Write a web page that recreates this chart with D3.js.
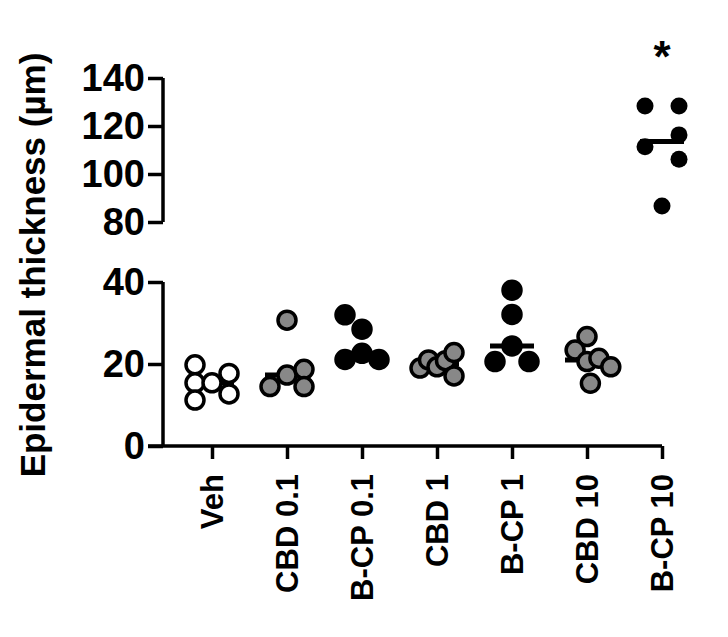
<!DOCTYPE html>
<html><head><meta charset="utf-8">
<script src="https://cdn.jsdelivr.net/npm/d3@7"></script>
<style>body{margin:0;background:#fff}text{font-family:"Liberation Sans",Arial,sans-serif;font-weight:bold}</style>
</head><body><svg id="c" width="728" height="637"></svg>
<script>
const categories=["Veh","CBD 0.1","B-CP 0.1","CBD 1","B-CP 1","CBD 10","B-CP 10"];
const fills=["#fff","#888","#000","#888","#000","#888","#000"];
const values=[
 [19.8,15.4,15.4,17.7,12.7,11.2],
 [30.7,14.5,17.3,18.7,14.5],
 [32,28.5,22.6,21.1,21.1],
 [19,21,19.3,20.8,22.8,17.1],
 [38,32.1,24.4,20.6,20.6],
 [26.7,23.4,20.6,21.4,19.3,15.3],
 [128.3,128.3,116.3,111.4,106.1,86.7]];
const slots=[
 [-1,-1,0,1,1,-1],
 [0,-1,0,1,1],
 [-1,0,0,-1,1],
 [-1,-0.5,0,0.5,1,1],
 [0,0,0,-1,1],
 [0,-0.7,0,0.7,1.4,0.2],
 [-1,1,1,-1,1,0]];
const medians=[15.4,17.3,22.6,20,24.4,21,113.5];
const lowTicks=[0,20,40], highTicks=[80,100,120,140];
const svg=d3.select("#c");
const x=d3.scalePoint().domain(categories).range([212,662]);
const yL=d3.scaleLinear().domain([0,40]).range([446,282]);
const yH=d3.scaleLinear().domain([80,140]).range([222,78]);
const y=v=>v>=60?yH(v):yL(v);
const ax=163;
const gL=svg.append("g").attr("transform",`translate(${ax},0)`).call(d3.axisLeft(yL).tickValues(lowTicks).tickSize(15).tickPadding(3));
const gH=svg.append("g").attr("transform",`translate(${ax},0)`).call(d3.axisLeft(yH).tickValues(highTicks).tickSize(15).tickPadding(3));
[gL,gH].forEach(g=>{g.selectAll("path,line").attr("stroke","#000").attr("stroke-width",3.5);
 g.select(".domain").attr("d",null);g.selectAll("text").style("font-size","38px").attr("fill","#000");});
gL.append("line").attr("y1",yL(0)).attr("y2",yL(40)).attr("stroke","#000").attr("stroke-width",3.5);
gH.append("line").attr("y1",yH(80)).attr("y2",yH(140)).attr("stroke","#000").attr("stroke-width",3.5);
const gx=svg.append("g").attr("transform",`translate(0,${yL(0)})`).call(d3.axisBottom(x).tickSize(13).tickSizeOuter(0));
gx.select(".domain").attr("d",`M148,0H662`).attr("stroke","#000").attr("stroke-width",3.5);
gx.selectAll("line").attr("stroke","#000").attr("stroke-width",3.5);
gx.selectAll("text").style("font-size","31px").attr("fill","#000").attr("transform","rotate(-90)")
 .attr("text-anchor","end").attr("x",-28).attr("y",0).attr("dy","0.35em");
svg.append("text").attr("transform","translate(45,265) rotate(-90)").attr("text-anchor","middle")
 .style("font-size","35px").text("Epidermal thickness (µm)");
categories.forEach((c,i)=>{
 const g=svg.append("g");
 g.append("line").attr("x1",x(c)-22).attr("x2",x(c)+22).attr("y1",y(medians[i])).attr("y2",y(medians[i])).attr("stroke","#000").attr("stroke-width",5);
 g.selectAll("circle").data(values[i]).join("circle")
  .attr("cx",(d,j)=>x(c)+slots[i][j]*17).attr("cy",d=>y(d)).attr("r",i===6?8.5:9)
  .attr("fill",fills[i]).attr("stroke","#000").attr("stroke-width",i===6?0:3.5);
});
svg.append("text").attr("x",x("B-CP 10")).attr("y",72).attr("text-anchor","middle").style("font-size","44px").text("*");
</script></body></html>
